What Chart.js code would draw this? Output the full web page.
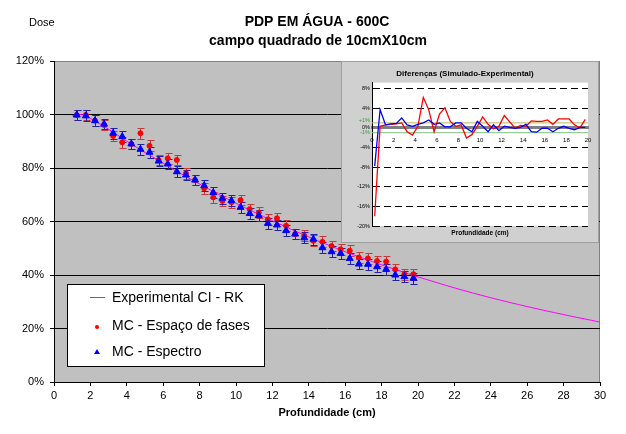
<!DOCTYPE html>
<html>
<head>
<meta charset="utf-8">
<script src="https://cdn.jsdelivr.net/npm/chart.js@4.4.1/dist/chart.umd.min.js"></script>
<style>
  html, body { margin:0; padding:0; background:#fff; }
  #wrap { position:relative; width:626px; height:434px; }
  #main { position:absolute; left:0; top:0; }
  #caixaInset { position:absolute; left:341px; top:61px; width:256px; height:180px; border:1px solid #a0a0a0; background:#d0d0d0; }
</style>
</head>
<body>
<div id="wrap">
  <canvas id="main" width="626" height="434"></canvas>
  <div id="caixaInset"><canvas id="inset" width="256" height="180"></canvas></div>
</div>
<script>
'use strict';
// curva experimental (CI - RK)
let profExp = [1, 1.5, 2, 3, 4, 5, 6, 7, 8, 9, 10, 11, 12, 13, 14, 15, 16, 17, 18, 19, 20, 22, 24, 26, 28, 30];
let doseExp = [99.5, 100, 98.5, 94.5, 90, 85.8, 81.8, 77.8, 74.0, 70.3, 66.8, 63.5, 60.3, 57.2, 54.2, 51.4, 48.7, 46.2, 43.8, 41.5, 39.3, 35.2, 31.5, 28.2, 25.2, 22.4];

// pontos Monte Carlo
let profMC = [1.25, 1.75, 2.25, 2.75, 3.25, 3.75, 4.25, 4.75, 5.25, 5.75, 6.25, 6.75, 7.25, 7.75, 8.25, 8.75, 9.25, 9.75, 10.25, 10.75,
  11.25, 11.75, 12.25, 12.75, 13.25, 13.75, 14.25, 14.75, 15.25, 15.75, 16.25, 16.75, 17.25, 17.75, 18.25, 18.75, 19.25, 19.75];
let doseFases = [99.8, 99.8, 97.7, 96.1, 92.0, 89.6, 89.0, 93.0, 88.3, 83.0, 83.6, 83.0, 78.0, 75.5, 72.4, 69.0, 67.7, 67.2, 68.0, 64.6,
  63.3, 60.8, 61.2, 58.4, 55.3, 54.7, 52.8, 52.4, 50.8, 49.6, 49.1, 46.5, 46.2, 45.2, 45.0, 42.1, 40.3, 40.3];
let doseEspectro = [99.8, 99.5, 97.7, 96.4, 93.0, 91.7, 89.0, 87.0, 85.9, 82.6, 81.5, 78.6, 77.4, 75.5, 73.4, 70.8, 68.7, 67.8, 65.3, 63.0,
  62.2, 59.3, 58.7, 56.6, 55.3, 53.9, 53.4, 50.2, 48.7, 48.1, 46.2, 44.1, 44.0, 43.1, 42.1, 40.0, 39.4, 38.8];
let erro = 2;

// diferencas (simulado - experimental), em %
let profDif = [0.25, 0.75, 1.25, 1.75, 2.25, 2.75, 3.25, 3.75, 4.25, 4.75, 5.25, 5.75, 6.25, 6.75, 7.25, 7.75, 8.25, 8.75, 9.25, 9.75,
  10.25, 10.75, 11.25, 11.75, 12.25, 12.75, 13.25, 13.75, 14.25, 14.75, 15.25, 15.75, 16.25, 16.75, 17.25, 17.75, 18.25, 18.75, 19.25, 19.75];
let difFases = [-18, 0.3, 0.6, 0.7, 0.8, 1.0, -0.8, -1.5, 0.3, 6.2, 3.7, -0.8, 2.8, 4.1, 1.3, 0.3, 0.6, -2.1, -1.4, 0.3,
  2.2, 0.7, -0.2, 0.3, 2.5, 1.2, -0.1, 0.5, 0.3, 1.4, 1.3, 1.3, 1.6, 0.7, 1.8, 1.8, 1.8, 0.6, 0, 1.7];
let difEspectro = [-7.8, 3.7, 0.6, 0.8, 0.9, 2.0, 0.6, 0.3, 0.7, 1.0, 1.6, 0.7, 1.0, 0.2, 0.2, 1.0, 1.0, -0.1, -0.8, 1.3,
  0.3, -0.8, 0.6, -0.6, 0.3, 0.1, -0.1, 0.1, 0.7, -0.8, -0.9, -0.1, -0.1, -0.8, -0.1, 0.3, -0.1, -0.4, 0.1, 0.1];
let limites = [1, -1];
let ticksDif = [-20, -16, -12, -8, -4, 0, 4, 8];

const fonte = 'Arial, "Liberation Sans", sans-serif';

function pontos(xs, ys){
  return xs.map((x, i) => ({x: x, y: ys[i]}));
}

const fundoPlot = {
  id: 'fundoPlot',
  beforeDraw(chart){
    const a = chart.chartArea, ctx = chart.ctx;
    ctx.save();
    ctx.fillStyle = '#fff';
    ctx.fillRect(0, 0, chart.width, chart.height);
    ctx.fillStyle = '#c0c0c0';
    ctx.fillRect(a.left, a.top, a.right - a.left, a.bottom - a.top);
    ctx.strokeStyle = '#808080';
    ctx.lineWidth = 1;
    ctx.beginPath();
    ctx.moveTo(a.left, a.top + 0.5);
    ctx.lineTo(a.right - 0.5, a.top + 0.5);
    ctx.lineTo(a.right - 0.5, a.bottom);
    ctx.stroke();
    ctx.restore();
  }
};

const barrasErro = {
  id: 'barrasErro',
  beforeDatasetsDraw(chart){
    const ctx = chart.ctx, ys = chart.scales.y;
    [[1, '#c83a3a'], [0, '#2222a8']].forEach(([i, cor]) => {
      const meta = chart.getDatasetMeta(i);
      const d = chart.data.datasets[i].data;
      ctx.save();
      ctx.strokeStyle = cor;
      ctx.lineWidth = 1;
      meta.data.forEach((p, k) => {
        const x = Math.round(p.x) + 0.5;
        const y1 = Math.round(ys.getPixelForValue(d[k].y + erro)) + 0.5;
        const y2 = Math.round(ys.getPixelForValue(d[k].y - erro)) + 0.5;
        ctx.beginPath();
        ctx.moveTo(x, y1); ctx.lineTo(x, y2);
        ctx.moveTo(x - 3, y1); ctx.lineTo(x + 4, y1);
        ctx.moveTo(x - 3, y2); ctx.lineTo(x + 4, y2);
        ctx.stroke();
      });
      ctx.restore();
    });
  }
};

const textos = {
  id: 'textos',
  afterDraw(chart){
    const ctx = chart.ctx;
    ctx.save();
    ctx.fillStyle = '#000';
    ctx.textBaseline = 'middle';
    ctx.textAlign = 'left';
    ctx.font = '11px ' + fonte;
    ctx.fillText('Dose', 29, 23);
    ctx.textAlign = 'center';
    ctx.font = 'bold 14px ' + fonte;
    ctx.fillText('PDP EM ÁGUA - 600C', 317, 22);
    ctx.fillText('campo quadrado de 10cmX10cm', 318, 41);

    // legenda
    ctx.fillStyle = '#fff';
    ctx.strokeStyle = '#000';
    ctx.lineWidth = 1;
    ctx.fillRect(67.5, 284.5, 197, 82);
    ctx.strokeRect(67.5, 284.5, 197, 82);
    ctx.strokeStyle = '#ff00ff';
    ctx.beginPath(); ctx.moveTo(90, 297.5); ctx.lineTo(105, 297.5); ctx.stroke();
    ctx.fillStyle = '#ff0000';
    ctx.beginPath(); ctx.arc(97, 327, 2, 0, Math.PI * 2); ctx.fill();
    ctx.fillStyle = '#0000ff';
    ctx.beginPath(); ctx.moveTo(97, 349); ctx.lineTo(100, 354); ctx.lineTo(94, 354); ctx.closePath(); ctx.fill();
    ctx.fillStyle = '#000';
    ctx.textAlign = 'left';
    ctx.font = '14px ' + fonte;
    ctx.fillText('Experimental CI - RK', 112, 298);
    ctx.fillText('MC - Espaço de fases', 112, 326);
    ctx.fillText('MC - Espectro', 112, 352);
    ctx.restore();
  }
};

new Chart(document.getElementById('main'), {
  type: 'scatter',
  data: {
    datasets: [
      { label: 'MC - Espectro', data: pontos(profMC, doseEspectro), pointStyle: 'triangle', pointRadius: 4,
        backgroundColor: '#0000ff', borderColor: '#0000ff', borderWidth: 1 },
      { label: 'MC - Espaço de fases', data: pontos(profMC, doseFases), pointStyle: 'circle', pointRadius: 2.5,
        backgroundColor: '#ff0000', borderColor: '#ff0000', borderWidth: 1 },
      { label: 'Experimental CI - RK', data: pontos(profExp, doseExp), showLine: true, pointRadius: 0,
        borderColor: '#ff00ff', borderWidth: 1, tension: 0.3 }
    ]
  },
  options: {
    responsive: false,
    animation: false,
    layout: { padding: { top: 61, right: 26, left: 0, bottom: 0 } },
    plugins: { legend: { display: false }, tooltip: { enabled: false } },
    scales: {
      x: {
        type: 'linear', min: 0, max: 30,
        ticks: { stepSize: 2, color: '#000', font: { family: fonte, size: 11 }, padding: 3, maxRotation: 0, autoSkip: false },
        grid: { drawOnChartArea: false, color: '#000', tickLength: 4 },
        border: { color: '#000', width: 1 },
        title: { display: true, text: 'Profundidade (cm)', color: '#000', font: { family: fonte, size: 11, weight: 'bold' }, padding: { top: 0, bottom: 14 } },
        afterFit(s){ s.height = 52; }
      },
      y: {
        min: 0, max: 120,
        ticks: { stepSize: 20, color: '#000', font: { family: fonte, size: 11 }, padding: 6, callback: v => v + '%' },
        grid: { color: c => (c.tick && c.tick.value === 120) ? '#808080' : '#000', tickColor: '#000', tickLength: 4 },
        border: { color: '#000' },
        afterFit(s){ s.width = 54; }
      }
    }
  },
  plugins: [fundoPlot, barrasErro, textos]
});

const insetTextos = {
  id: 'insetTextos',
  beforeDraw(chart){
    const a = chart.chartArea, ctx = chart.ctx;
    ctx.save();
    ctx.fillStyle = '#fff';
    ctx.fillRect(a.left, a.top, a.right - a.left, a.bottom - a.top);
    ctx.restore();
  },
  afterDraw(chart){
    const a = chart.chartArea, ctx = chart.ctx, ys = chart.scales.y;
    ctx.save();
    ctx.textBaseline = 'middle';
    ctx.textAlign = 'center';
    ctx.fillStyle = '#000';
    ctx.font = 'bold 6.5px ' + fonte;
    ctx.fillText('Profundidade (cm)', (a.left + a.right) / 2, 171);
    ctx.textAlign = 'right';
    ctx.font = '5.5px ' + fonte;
    ctx.fillStyle = '#339933';
    ctx.fillText('+1%', a.left - 2, ys.getPixelForValue(1.5));
    ctx.fillText('-1%', a.left - 2, ys.getPixelForValue(-1));
    ctx.restore();
  }
};

new Chart(document.getElementById('inset'), {
  type: 'scatter',
  data: {
    datasets: [
      { data: pontos(profDif, difEspectro), showLine: true, pointRadius: 0, borderColor: '#0000ff', borderWidth: 1.3 },
      { data: pontos(profDif, difFases), showLine: true, pointRadius: 0, borderColor: '#ff0000', borderWidth: 1.3 },
      { data: [{x: 0, y: limites[0]}, {x: 20, y: limites[0]}], showLine: true, pointRadius: 0, borderColor: '#b8b860', borderWidth: 1 },
      { data: [{x: 0, y: limites[1]}, {x: 20, y: limites[1]}], showLine: true, pointRadius: 0, borderColor: '#80c080', borderWidth: 1 }
    ]
  },
  options: {
    responsive: false,
    animation: false,
    layout: { padding: { top: 0, right: 10, left: 0, bottom: 16 } },
    plugins: {
      legend: { display: false },
      tooltip: { enabled: false },
      title: { display: true, text: 'Diferenças (Simulado-Experimental)', color: '#000',
        font: { family: fonte, size: 8, weight: 'bold' }, padding: { top: 7, bottom: 4 } }
    },
    scales: {
      x: {
        type: 'linear', min: 0, max: 20, position: { y: 0 },
        ticks: { stepSize: 2, color: '#000', font: { family: fonte, size: 6 }, padding: 1, maxRotation: 0, autoSkip: false },
        grid: { display: false },
        border: { color: '#808080', width: 3 }
      },
      y: {
        min: -20, max: 9.2,
        afterBuildTicks(s){ s.ticks = ticksDif.map(v => ({value: v})); },
        ticks: { color: '#000', font: { family: fonte, size: 5.5 }, padding: 2, callback: v => v + '%' },
        grid: { color: c => (c.tick && c.tick.value === 0) ? 'rgba(0,0,0,0)' : '#000', drawTicks: false },
        border: { color: '#000', dash: [7, 4] },
        afterFit(s){ s.width = 30; }
      }
    }
  },
  plugins: [insetTextos]
});
</script>
</body>
</html>
